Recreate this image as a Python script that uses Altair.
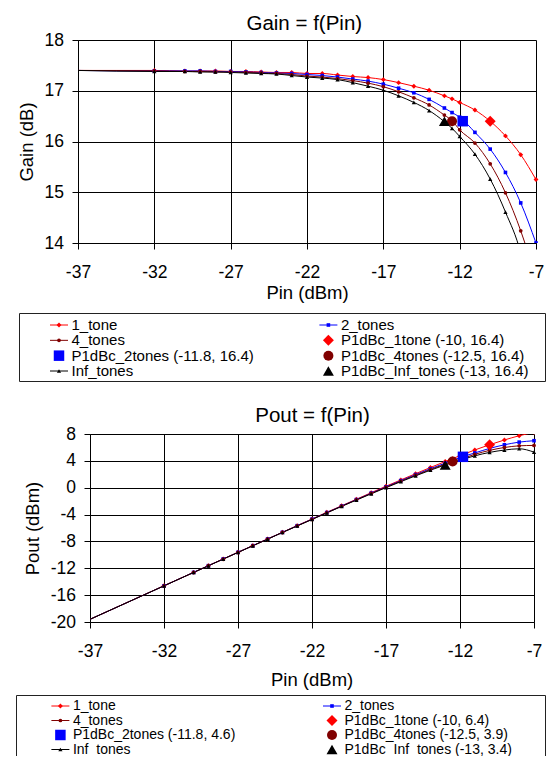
import altair as alt
import pandas as pd

FONT = "Liberation Sans"
INK = "#000000"

# ---------------- data ----------------
series = ["1_tone", "2_tones", "4_tones", "Inf_tones"]
series_colors = ["#ff0000", "#0000ff", "#800000", "#000000"]
series_shapes = ["diamond", "square", "circle", "triangle-up"]

pin = [-37, -32, -30, -29, -28, -27, -26, -25, -24, -23, -22, -21, -20, -19,
       -18, -17, -16, -15, -14, -13, -12.5, -12, -11, -10, -9, -8, -7]

gain_1tone = [17.40, 17.40, 17.39, 17.39, 17.39, 17.38, 17.38, 17.37, 17.36, 17.36,
              17.34, 17.34, 17.31, 17.28, 17.26, 17.22, 17.16, 17.09, 17.01, 16.90,
              16.84, 16.77, 16.62, 16.40, 16.11, 15.74, 15.25]
gain_2tones = [17.40, 17.39, 17.39, 17.39, 17.38, 17.38, 17.37, 17.36, 17.35, 17.34,
               17.32, 17.30, 17.27, 17.23, 17.19, 17.13, 17.05, 16.96, 16.83, 16.66,
               16.57, 16.48, 16.18, 15.85, 15.39, 14.79, 14.00]
gain_4tones = [17.40, 17.39, 17.38, 17.38, 17.37, 17.37, 17.36, 17.35, 17.34, 17.32,
               17.29, 17.27, 17.24, 17.20, 17.15, 17.08, 16.98, 16.86, 16.72, 16.52,
               16.41, 16.23, 15.97, 15.56, 14.99, 14.24, 13.30]
gain_inf = [17.40, 17.38, 17.38, 17.37, 17.37, 17.36, 17.35, 17.34, 17.33, 17.30,
            17.27, 17.25, 17.22, 17.16, 17.09, 17.01, 16.90, 16.77, 16.61, 16.39,
            16.26, 16.10, 15.75, 15.26, 14.61, 13.80, 12.30]

pout_1tone = [-19.60, -14.60, -12.61, -11.61, -10.61, -9.62, -8.62, -7.63, -6.64, -5.64,
              -4.66, -3.66, -2.69, -1.72, -0.74, 0.22, 1.16, 2.09, 3.01, 3.90,
              4.34, 4.77, 5.62, 6.40, 7.11, 7.74, 8.25]
pout_2tones = [-19.60, -14.61, -12.61, -11.61, -10.62, -9.62, -8.63, -7.64, -6.65, -5.66,
               -4.68, -3.70, -2.73, -1.77, -0.81, 0.13, 1.05, 1.96, 2.83, 3.66,
               4.07, 4.48, 5.18, 5.85, 6.39, 6.79, 7.00]
pout_4tones = [-19.60, -14.61, -12.62, -11.62, -10.63, -9.63, -8.64, -7.65, -6.66, -5.68,
               -4.71, -3.73, -2.76, -1.80, -0.85, 0.08, 0.98, 1.86, 2.72, 3.52,
               3.91, 4.23, 4.97, 5.56, 5.99, 6.24, 6.30]
pout_inf = [-19.60, -14.62, -12.62, -11.63, -10.63, -9.64, -8.65, -7.66, -6.67, -5.70,
            -4.73, -3.75, -2.78, -1.84, -0.91, 0.01, 0.90, 1.77, 2.61, 3.39,
            3.76, 4.10, 4.75, 5.26, 5.61, 5.80, 5.30]

p1db_names = ["P1dBc_1tone", "P1dBc_2tones", "P1dBc_4tones", "P1dBc_Inf_tones"]
p1db_pin = [-10, -11.8, -12.5, -13]
p1db_gain = [16.4, 16.4, 16.4, 16.4]
p1db_pout = [6.4, 4.6, 3.9, 3.4]

x_ticks = [-37, -32, -27, -22, -17, -12, -7]
gain_ticks = [14, 15, 16, 17, 18]
pout_ticks = [-20, -16, -12, -8, -4, 0, 4, 8]

chart_titles = ["Gain = f(Pin)", "Pout = f(Pin)"]

# legend order (two columns, row-major like the original)
legend_keys = ["1_tone", "2_tones", "4_tones", "P1dBc_1tone",
               "P1dBc_2tones", "P1dBc_4tones", "Inf_tones", "P1dBc_Inf_tones"]

# ---------------- tables ----------------
rows = []
for s, g, p in zip(series, [gain_1tone, gain_2tones, gain_4tones, gain_inf],
                   [pout_1tone, pout_2tones, pout_4tones, pout_inf]):
    for x, gv, pv in zip(pin, g, p):
        rows.append({"series": s, "pin": x, "gain": gv, "pout": pv})
df = pd.DataFrame(rows)
big = pd.DataFrame({"series": p1db_names, "pin": p1db_pin,
                    "gain": p1db_gain, "pout": p1db_pout})

key_domain = series + p1db_names
color_sc = alt.Scale(domain=key_domain, range=series_colors + series_colors)
shape_sc = alt.Scale(domain=key_domain, range=series_shapes + series_shapes)
size_sc = alt.Scale(type="ordinal", domain=key_domain,
                    range=[24, 13, 14, 18, 120, 110, 100, 120])

LABEL_EXPR = "'' + datum.value"


def legend_table(values):
    lab = {s: s for s in series}
    for n, x, v in zip(p1db_names, p1db_pin, values):
        lab[n] = f"{n} ({x:g}, {v:g})"
    return pd.DataFrame({
        "key": legend_keys,
        "label": [lab[k] for k in legend_keys],
        "kind": ["line" if k in series else "big" for k in legend_keys],
        "col": [i % 2 for i in range(len(legend_keys))],
        "row": [i // 2 for i in range(len(legend_keys))],
    })


VIEW_W = 530   # every panel starts at the legend-box left edge


def anchor_layer(ax, ay):
    # invisible corner mark that pins the drawing's top-left to the page origin
    return alt.Chart(pd.DataFrame({"a": [0]})).mark_rule(opacity=0).encode(
        x=alt.value(ax), y=alt.value(ay), y2=alt.value(ay + 1))


def plot_panel(ycol, ydom, yticks, title, title_pos, xrange, yoffset,
               ytitle, ytitle_x, ytitle_y, xtitle_x, xtitle_y, height, anchor=None):
    x = alt.X("pin:Q", scale=alt.Scale(domain=[-37, -7], nice=False, zero=False, range=xrange),
              axis=alt.Axis(values=x_ticks, labelExpr=LABEL_EXPR, title="Pin (dBm)",
                            titleX=xtitle_x, titleY=xtitle_y, titleBaseline="middle",
                            labelPadding=14))
    y = alt.Y(f"{ycol}:Q", scale=alt.Scale(domain=ydom, nice=False, zero=False),
              axis=alt.Axis(values=yticks, labelExpr=LABEL_EXPR, title=ytitle, offset=yoffset,
                            titleX=ytitle_x, titleY=ytitle_y, titleBaseline="middle",
                            titleAlign="center", titleAngle=270, labelPadding=8.5))
    color = alt.Color("series:N", scale=color_sc, legend=None)
    shape = alt.Shape("series:N", scale=shape_sc, legend=None)
    size = alt.Size("series:N", scale=size_sc, legend=None)

    base = alt.Chart(df)
    lines = base.mark_line(interpolate="monotone", strokeWidth=1, clip=True).encode(
        x=x, y=y, color=color, detail="series:N")
    pts = base.transform_filter("datum.pin > -37").mark_point(
        filled=True, opacity=1, strokeWidth=0, clip=True).encode(
        x=x, y=y, color=color, shape=shape, size=size)
    bigpts = alt.Chart(big).mark_point(filled=True, opacity=1, strokeWidth=0).encode(
        x=x, y=y, color=color, shape=shape, size=size)
    ttl = alt.Chart(pd.DataFrame({"t": [title]})).mark_text(
        align="center", baseline="middle", fontSize=20.5, font=FONT, color=INK).encode(
        x=alt.value(title_pos[0]), y=alt.value(title_pos[1]), text="t:N")
    layers = [lines, pts, bigpts, ttl]
    if anchor is not None:
        layers = [anchor_layer(*anchor)] + layers
    return alt.layer(*layers).properties(width=VIEW_W, height=height)


def legend_panel(values, height, box, cols, rows_rng, font_size):
    t = legend_table(values)
    x = alt.X("col:Q", scale=alt.Scale(domain=[0, 1], range=cols), axis=None)
    y = alt.Y("row:Q", scale=alt.Scale(domain=[0, 3], range=rows_rng), axis=None)
    color = alt.Color("key:N", scale=color_sc, legend=None)
    shape = alt.Shape("key:N", scale=shape_sc, legend=None)
    size = alt.Size("key:N", scale=size_sc, legend=None)
    bx0, bx1, by0, by1 = box
    frame = alt.Chart(pd.DataFrame({"b": [0]})).mark_rect(
        fillOpacity=0, stroke="#222222", strokeWidth=1, clip=True).encode(
        x=alt.value(bx0), x2=alt.value(bx1), y=alt.value(by0), y2=alt.value(by1))
    base = alt.Chart(t)
    seg = base.transform_filter("datum.kind == 'line'").mark_rule(
        xOffset=-9, x2Offset=9, strokeWidth=1).encode(x=x, x2="col:Q", y=y, color=color)
    sym = base.mark_point(filled=True, opacity=1, strokeWidth=0).encode(
        x=x, y=y, color=color, shape=shape, size=size)
    txt = base.mark_text(align="left", baseline="middle", dx=12.5, fontSize=font_size,
                         font=FONT, color=INK, clip=True).encode(x=x, y=y, text="label:N")
    return alt.layer(frame, seg, sym, txt).properties(width=VIEW_W, height=height)


# panel origin: page x = 15 ; gain plot top at page y = 39
gain_chart = plot_panel("gain", [14, 18], gain_ticks, chart_titles[0], (288.3, -16.5),
                        [62, 520], -62, "Gain (dB)", -51.3, 101.5, 291, 49.7, 203,
                        anchor=(-7, -31))
leg1 = legend_panel(p1db_gain, 191, (3.5, 529.5, 70.5, 138.5), [43, 312.4], [82, 128], 15)
pout_chart = plot_panel("pout", [-20, 8], pout_ticks, chart_titles[1], (296.5, -18.5),
                        [74, 518], -74, "Pout (dBm)", -57.5, 94, 295.6, 57.3, 188)
leg2 = legend_panel(p1db_pout, 134, (0.5, 529.5, 73.5, 150), [44.4, 316], [84, 127.5], 14)

chart = alt.vconcat(gain_chart, leg1, pout_chart, leg2, spacing=0, bounds="flush").properties(
    padding=0
).configure_view(stroke="transparent").configure_axis(
    labelFont=FONT, labelFontSize=17.5, labelColor=INK, labelFlush=False, labelOverlap=False,
    titleFont=FONT, titleFontSize=18.5, titleFontWeight="normal", titleColor=INK,
    tickColor=INK, tickSize=6, tickWidth=1, domainColor=INK, domainWidth=1,
    gridColor=INK, gridOpacity=1, gridWidth=1,
)

chart.save("out.html", embed_options={"renderer": "svg", "actions": False})
